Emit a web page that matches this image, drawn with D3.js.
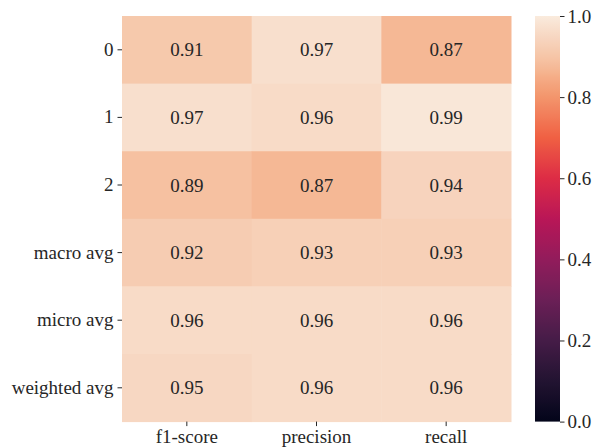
<!DOCTYPE html>
<html>
<head>
<meta charset="utf-8">
<script src="https://cdn.jsdelivr.net/npm/d3@7"></script>
<style>
  body { margin: 0; background: #fff; }
</style>
</head>
<body>
<svg width="592" height="448"></svg>
<script>
var rows = ["0", "1", "2", "macro avg", "micro avg", "weighted avg"];
var cols = ["f1-score", "precision", "recall"];
var f1 = [0.91, 0.97, 0.89, 0.92, 0.96, 0.95];
var precision = [0.97, 0.96, 0.87, 0.93, 0.96, 0.96];
var recall = [0.87, 0.99, 0.94, 0.93, 0.96, 0.96];
var cbTicks = [0, 0.2, 0.4, 0.6, 0.8, 1.0];

// approximate seaborn "rocket" colormap
var rocketStops = [0, 0.1, 0.2, 0.3, 0.4, 0.5, 0.6, 0.7, 0.8, 0.85, 0.87, 0.9, 0.95, 1.0];
var rocketColors = ["#03051a", "#221331", "#451c47", "#6b1f56", "#921c5b", "#b91657",
                    "#dd2c45", "#f06043", "#f3956c", "#f5ad87", "#f5b895", "#f6c5a7",
                    "#f7d7c2", "#faebdd"];

var fontFam = "'Liberation Serif', 'Times New Roman', serif";
var mapLeft = 122, mapTop = 16, mapWidth = 389, mapHeight = 405.6;
var cbLeft = 535, cbWidth = 25;

var svg = d3.select("svg");
var color = d3.scaleLinear().domain(rocketStops).range(rocketColors)
	.interpolate(d3.interpolateRgb);

var x = d3.scaleBand().domain(cols).range([mapLeft, mapLeft + mapWidth]);
var y = d3.scaleBand().domain(rows).range([mapTop, mapTop + mapHeight]);

var cells = [];
rows.forEach(function(r, i) {
	cells.push({row: r, col: "f1-score", v: f1[i]});
	cells.push({row: r, col: "precision", v: precision[i]});
	cells.push({row: r, col: "recall", v: recall[i]});
});

// heatmap cells
svg.selectAll("rect.cell")
	.data(cells)
	.enter()
	.append("rect")
	.attr("class", "cell")
	.attr("x", function(d) { return x(d.col); })
	.attr("y", function(d) { return y(d.row); })
	.attr("width", x.bandwidth() + 0.5)
	.attr("height", y.bandwidth() + 0.5)
	.attr("fill", function(d) { return color(d.v); });

// annotations
svg.selectAll("text.annot")
	.data(cells)
	.enter()
	.append("text")
	.attr("class", "annot")
	.attr("x", function(d) { return x(d.col) + x.bandwidth() / 2; })
	.attr("y", function(d) { return y(d.row) + y.bandwidth() / 2; })
	.attr("dy", "0.35em")
	.attr("text-anchor", "middle")
	.style("font-family", fontFam)
	.style("font-size", "19px")
	.style("fill", "#262626")
	.text(function(d) { return d.v.toFixed(2); });

// axes
var yAxis = svg.append("g")
	.attr("transform", "translate(" + mapLeft + ",0)")
	.call(d3.axisLeft(y).tickSize(4.5).tickPadding(4));
var xAxis = svg.append("g")
	.attr("transform", "translate(0," + (mapTop + mapHeight) + ")")
	.call(d3.axisBottom(x).tickSize(4.5).tickPadding(3));

// colorbar
var defs = svg.append("defs");
var grad = defs.append("linearGradient")
	.attr("id", "cbgrad")
	.attr("x1", 0).attr("y1", 1).attr("x2", 0).attr("y2", 0);
d3.range(0, 1.0001, 0.01).forEach(function(t) {
	grad.append("stop").attr("offset", t).attr("stop-color", color(t));
});
svg.append("rect")
	.attr("x", cbLeft)
	.attr("y", mapTop)
	.attr("width", cbWidth)
	.attr("height", mapHeight)
	.attr("fill", "url(#cbgrad)");

var cbScale = d3.scaleLinear().domain([0, 1]).range([mapTop + mapHeight, mapTop]);
var cbAxis = svg.append("g")
	.attr("transform", "translate(" + (cbLeft + cbWidth) + ",0)")
	.call(d3.axisRight(cbScale).tickValues(cbTicks).tickFormat(d3.format(".1f"))
		.tickSize(4.5).tickPadding(3));

[xAxis, yAxis, cbAxis].forEach(function(g) {
	g.attr("font-family", null).attr("font-size", null);
	g.select(".domain").remove();
	g.selectAll("line").attr("stroke", "#262626").attr("stroke-width", 1);
	g.selectAll("text")
		.style("font-family", fontFam)
		.style("font-size", "19px")
		.attr("fill", "#262626");
});
</script>
</body>
</html>
